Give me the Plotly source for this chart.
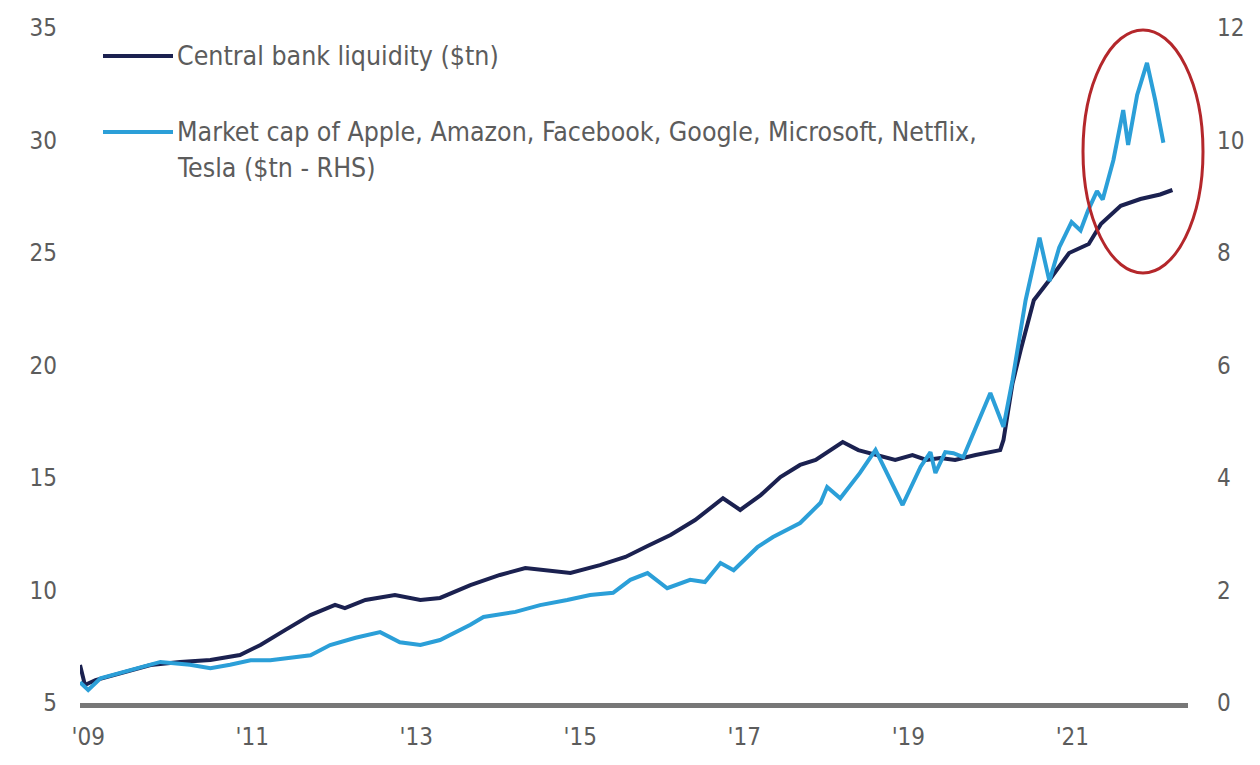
import plotly.graph_objects as go

# ---- data (decimal years) ----
cb_years = [2008.90, 2008.96, 2009.09, 2009.39, 2009.76, 2010.12, 2010.49, 2010.85, 2011.10, 2011.40,
            2011.71, 2012.01, 2012.13, 2012.38, 2012.74, 2013.05, 2013.29, 2013.66, 2014.02, 2014.33,
            2014.57, 2014.88, 2015.24, 2015.55, 2015.82, 2016.10, 2016.40, 2016.59, 2016.74, 2016.95,
            2017.20, 2017.44, 2017.68, 2017.87, 2018.05, 2018.20, 2018.39, 2018.60, 2018.84, 2019.05,
            2019.22, 2019.39, 2019.57, 2019.82, 2020.00, 2020.12, 2020.16, 2020.27, 2020.37, 2020.53,
            2020.72, 2020.96, 2021.20, 2021.35, 2021.59, 2021.83, 2022.07, 2022.22]
cb_liquidity = [6.69, 5.80, 6.02, 6.33, 6.69, 6.82, 6.91, 7.13, 7.58, 8.24,
                8.91, 9.36, 9.22, 9.58, 9.80, 9.58, 9.67, 10.24, 10.69, 11.00,
                10.91, 10.78, 11.13, 11.49, 11.98, 12.47, 13.13, 13.67, 14.10, 13.58,
                14.24, 15.04, 15.58, 15.80, 16.24, 16.60, 16.24, 16.02, 15.80, 16.02,
                15.80, 15.89, 15.80, 16.02, 16.16, 16.24, 16.69, 19.20, 20.69, 22.90,
                23.80, 25.00, 25.40, 26.30, 27.10, 27.40, 27.60, 27.80]

mc_years = [2008.90, 2009.00, 2009.15, 2009.51, 2009.88, 2010.24, 2010.49, 2010.73, 2010.98, 2011.22,
            2011.46, 2011.71, 2011.95, 2012.26, 2012.56, 2012.80, 2013.05, 2013.29, 2013.66, 2013.82,
            2014.21, 2014.51, 2014.84, 2015.12, 2015.40, 2015.61, 2015.82, 2016.06, 2016.34, 2016.52,
            2016.71, 2016.87, 2017.16, 2017.35, 2017.68, 2017.93, 2018.01, 2018.17, 2018.41, 2018.60,
            2018.93, 2019.15, 2019.27, 2019.33, 2019.45, 2019.55, 2019.67, 2020.00, 2020.16, 2020.27,
            2020.43, 2020.60, 2020.72, 2020.84, 2020.99, 2021.10, 2021.19, 2021.30, 2021.37, 2021.50,
            2021.62, 2021.68, 2021.79, 2021.91, 2022.01, 2022.11]
mc_market_cap = [0.37, 0.23, 0.44, 0.59, 0.73, 0.68, 0.62, 0.68, 0.76, 0.76,
                 0.80, 0.85, 1.03, 1.16, 1.26, 1.08, 1.03, 1.12, 1.39, 1.53,
                 1.62, 1.74, 1.83, 1.92, 1.96, 2.19, 2.31, 2.04, 2.19, 2.15,
                 2.49, 2.36, 2.77, 2.95, 3.20, 3.56, 3.84, 3.64, 4.09, 4.50,
                 3.52, 4.20, 4.46, 4.09, 4.46, 4.44, 4.37, 5.51, 4.91, 5.74,
                 7.16, 8.27, 7.50, 8.10, 8.55, 8.40, 8.75, 9.10, 8.95, 9.65,
                 10.54, 9.92, 10.81, 11.38, 10.72, 9.96]

tick_years = [2009, 2011, 2013, 2015, 2017, 2019, 2021]
tick_labels = ["'09", "'11", "'13", "'15", "'17", "'19", "'21"]
left_ticks = [5, 10, 15, 20, 25, 30, 35]
right_ticks = [0, 2, 4, 6, 8, 10, 12]

legend_cb = "Central bank liquidity ($tn)"
legend_mc_1 = "Market cap of Apple, Amazon, Facebook, Google, Microsoft, Netflix,"
legend_mc_2 = "Tesla ($tn - RHS)"

DARK = "#1b2150"
LIGHT = "#2b9fd8"
TEXT = "#5c5c5c"
FONT = "DejaVu Sans Condensed, Roboto, sans-serif"

fig = go.Figure()
fig.add_trace(go.Scatter(x=cb_years, y=cb_liquidity, mode="lines",
                         line=dict(color=DARK, width=4), name=legend_cb, yaxis="y"))
fig.add_trace(go.Scatter(x=mc_years, y=mc_market_cap, mode="lines",
                         line=dict(color=LIGHT, width=4), name=legend_mc_1, yaxis="y2"))

L, R, T, B = 80, 72, 28, 62
W, H = 1260, 765
pw, ph = W - L - R, H - T - B

def px_x(p):
    return (p - L) / pw

def px_y(p):
    return (H - B - p) / ph

fig.update_layout(
    width=W, height=H,
    margin=dict(l=L, r=R, t=T, b=B, pad=0),
    paper_bgcolor="white", plot_bgcolor="white",
    showlegend=False,
    font=dict(family=FONT, size=24, color=TEXT),
    xaxis=dict(range=[2008.90, 2022.41], tickvals=tick_years, ticktext=tick_labels,
               showgrid=False, zeroline=False, showline=True, linecolor="#777777", linewidth=5,
               ticks="", ticklabelstandoff=8, tickfont=dict(size=24, color=TEXT)),
    yaxis=dict(range=[5, 35], tickvals=left_ticks, showgrid=False, zeroline=False,
               showline=False, ticks="", ticklabelstandoff=22, tickfont=dict(size=24, color=TEXT)),
    yaxis2=dict(range=[0, 12], tickvals=right_ticks, overlaying="y", side="right",
                showgrid=False, zeroline=False, showline=False, ticks="",
                ticklabelstandoff=28, tickfont=dict(size=24, color=TEXT)),
)

# legend drawn manually
fig.add_shape(type="line", xref="paper", yref="paper",
              x0=px_x(103), x1=px_x(173), y0=px_y(56), y1=px_y(56),
              line=dict(color=DARK, width=4))
fig.add_shape(type="line", xref="paper", yref="paper",
              x0=px_x(103), x1=px_x(173), y0=px_y(132), y1=px_y(132),
              line=dict(color=LIGHT, width=4))
for txt, yy in [(legend_cb, 56), (legend_mc_1, 132), (legend_mc_2, 168)]:
    fig.add_annotation(text=txt, xref="paper", yref="paper", x=px_x(175), y=px_y(yy),
                       xanchor="left", yanchor="middle", showarrow=False,
                       font=dict(family=FONT, size=26.5, color=TEXT))

# red ellipse highlight
fig.add_shape(type="circle", xref="paper", yref="paper",
              x0=px_x(1083), x1=px_x(1203), y0=px_y(273), y1=px_y(30),
              line=dict(color="#b4272b", width=3))

fig.write_html("out.html")
